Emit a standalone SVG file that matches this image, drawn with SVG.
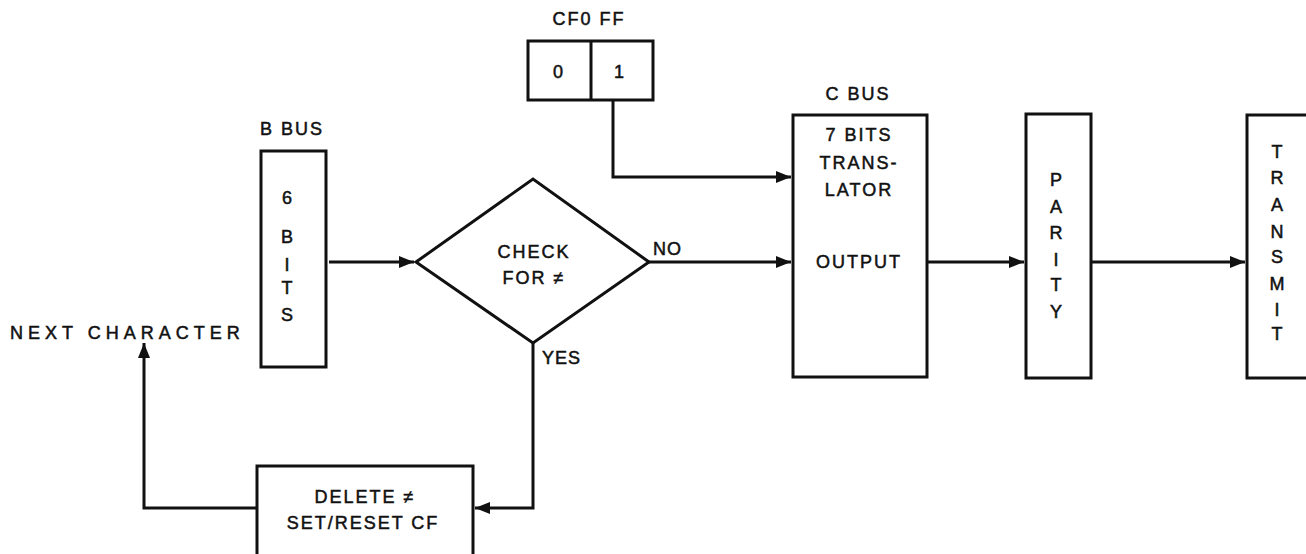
<svg xmlns="http://www.w3.org/2000/svg" width="1306" height="554" viewBox="0 0 1306 554">
<style>
.box{fill:none;stroke:#111;stroke-width:3}
.ln{fill:none;stroke:#111;stroke-width:3}
text{font-family:"Liberation Sans",Arial,sans-serif;font-size:18px;fill:#111;stroke:#111;stroke-width:0.5;text-anchor:middle;letter-spacing:2px}
.lbl{text-anchor:start}
</style>
<defs>
<marker id="ah" markerUnits="userSpaceOnUse" markerWidth="16" markerHeight="12" refX="15" refY="6" orient="auto">
<path d="M0,0 L15,6 L0,12 Z" fill="#111"/>
</marker>
</defs>
<rect width="1306" height="554" fill="#fff"/>
<g id="cf0ff">
<text x="589" y="25">CF0 FF</text>
<rect class="box" x="528" y="41" width="125" height="59"/>
<line class="ln" x1="591" y1="41" x2="591" y2="100"/>
<text x="559" y="78">0</text>
<text x="620" y="78">1</text>
</g>
<g id="bbus">
<text x="292" y="135">B BUS</text>
<rect class="box" x="261" y="151" width="65" height="216"/>
<text x="288" y="204">6</text>
<text x="288" y="243">B</text>
<text x="288" y="271">I</text>
<text x="288" y="294">T</text>
<text x="288" y="321">S</text>
</g>
<g id="check">
<polygon class="box" points="416,262 533,179 649,262 533,343"/>
<text x="534" y="258">CHECK</text>
<text x="534" y="284">FOR ≠</text>
</g>
<g id="cbus">
<text x="858" y="100">C BUS</text>
<rect class="box" x="793" y="115" width="134" height="262"/>
<text x="859" y="141">7 BITS</text>
<text x="859" y="169">TRANS-</text>
<text x="859" y="196">LATOR</text>
<text x="859" y="268">OUTPUT</text>
</g>
<g id="parity">
<rect class="box" x="1026" y="114" width="65" height="264"/>
<text x="1057" y="186">P</text>
<text x="1057" y="213">A</text>
<text x="1057" y="239">R</text>
<text x="1057" y="266">I</text>
<text x="1057" y="291">T</text>
<text x="1057" y="318">Y</text>
</g>
<g id="transmit">
<rect class="box" x="1247" y="115" width="70" height="263"/>
<text x="1278" y="158">T</text>
<text x="1278" y="184">R</text>
<text x="1278" y="211">A</text>
<text x="1278" y="238">N</text>
<text x="1278" y="263">S</text>
<text x="1278" y="290">M</text>
<text x="1278" y="316">I</text>
<text x="1278" y="340">T</text>
</g>
<g id="delete">
<rect class="box" x="257" y="466" width="216" height="100"/>
<text x="365" y="503">DELETE ≠</text>
<text x="363" y="529">SET/RESET CF</text>
</g>
<g id="next">
<text class="lbl" x="10" y="339" style="letter-spacing:5px">NEXT CHARACTER</text>
</g>
<g id="connectors">
<polyline class="ln" points="613,100 613,177 791,177" marker-end="url(#ah)"/>
<line class="ln" x1="329" y1="262" x2="414" y2="262" marker-end="url(#ah)"/>
<line class="ln" x1="649" y1="262" x2="791" y2="262" marker-end="url(#ah)"/>
<line class="ln" x1="927" y1="262" x2="1024" y2="262" marker-end="url(#ah)"/>
<line class="ln" x1="1091" y1="262" x2="1245" y2="262" marker-end="url(#ah)"/>
<polyline class="ln" points="533,343 533,508 475,508" marker-end="url(#ah)"/>
<polyline class="ln" points="257,508 144,508 144,343" marker-end="url(#ah)"/>
<text class="lbl" x="653" y="255" style="letter-spacing:1px">NO</text>
<text class="lbl" x="542" y="364" style="letter-spacing:1px">YES</text>
</g>
</svg>
